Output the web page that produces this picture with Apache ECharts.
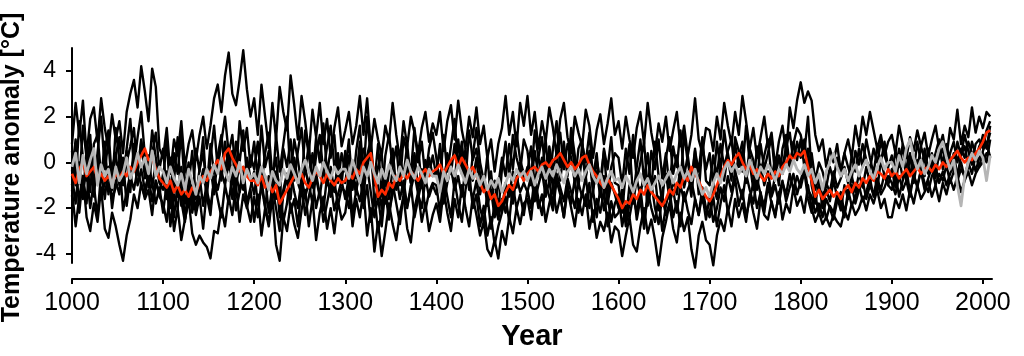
<!DOCTYPE html>
<html>
<head>
<meta charset="utf-8">
<script src="https://cdn.jsdelivr.net/npm/echarts@6/dist/echarts.min.js"></script>
<style>
html,body{margin:0;padding:0;background:#fff;}
#chart{width:1024px;height:356px;}
</style>
</head>
<body>
<div id="chart"></div>
<script>
// x positions: every 4 years from 1000 to 2008
const YEARS = [];
for (let y = 1000; y <= 2008; y += 4) YEARS.push(y);

const X_TICKS = [1000, 1100, 1200, 1300, 1400, 1500, 1600, 1700, 1800, 1900, 2000];
const Y_TICKS = [-4, -2, 0, 2, 4];

// black reconstructions
const black1 = [
  0.8,2.6,1.2,2.7,0.3,1.9,2.4,0.9,2.8,1.5,0.6,2.1,1.0,1.8,0.4,2.2,3.0,3.6,2.4,4.2,3.1,1.8,4.1,3.3,0.6,
  0.2,1.5,-0.5,1.0,0.3,1.8,-0.2,0.8,1.4,0.1,1.2,2.0,0.6,1.6,2.8,3.4,2.2,3.8,4.8,3.0,2.5,3.6,4.9,3.2,2.0,
  2.8,1.2,3.4,2.0,0.6,2.6,1.0,3.3,2.2,1.4,3.8,2.5,1.0,2.9,1.8,0.4,2.3,1.1,2.6,0.8,1.9,0.2,1.5,2.4,0.7,
  1.4,2.2,0.8,1.6,2.9,1.2,2.8,0.6,1.9,1.0,0.3,1.6,0.9,2.6,1.2,0.1,1.8,0.7,2.0,1.3,0.4,1.5,2.2,0.9,1.7,
  1.2,2.2,0.5,1.8,2.5,1.0,2.7,1.4,0.6,2.0,1.1,2.4,0.8,1.6,0.2,1.0,-0.4,0.8,1.5,2.9,1.2,2.2,0.7,2.6,1.6,
  2.9,1.2,2.2,0.6,1.8,0.9,2.4,1.5,0.3,1.9,2.6,1.1,0.4,2.0,1.3,0.7,2.3,1.6,0.2,1.4,2.1,0.8,1.7,2.8,1.2,
  1.8,0.6,2.0,1.0,0.2,1.5,2.2,0.8,2.6,1.3,0.4,1.7,0.9,2.0,0.5,1.4,2.2,0.7,1.6,0.3,1.2,2.8,1.0,0.4,1.5,
  1.4,0.5,2.0,1.0,2.6,1.6,0.8,2.2,1.2,2.9,1.8,0.6,1.5,0.2,1.1,2.0,0.7,1.3,-0.2,0.9,1.6,0.4,2.4,1.5,2.7,
  3.5,2.6,3.1,2.7,1.2,0.5,1.0,-0.2,0.6,0.0,0.8,-0.4,0.4,1.0,0.2,1.6,0.7,2.0,1.2,2.2,1.4,0.6,1.2,0.3,0.9,
  1.2,0.4,1.6,0.8,0.2,1.1,0.5,1.4,0.7,1.3,0.3,1.0,1.6,0.6,1.2,0.2,1.5,1.0,2.3,0.8,1.6,1.1,2.4,1.3,2.0,
  1.5,2.2,2.0
];
const black2 = [
  -1.2,-2.8,-1.5,-0.6,-2.4,-3.0,-1.8,-2.6,-1.1,-2.9,-3.3,-2.2,-2.8,-3.6,-4.3,-3.2,-2.5,-1.4,-2.0,-0.9,-1.6,-1.2,-2.3,-0.8,-1.5,
  -1.8,-2.6,-1.2,-3.0,-2.0,-3.4,-2.5,-1.6,-3.1,-3.6,-3.2,-3.5,-3.7,-4.2,-3.0,-3.1,-2.0,-2.8,-1.5,-2.3,-1.0,-2.6,-1.4,-2.0,-1.2,
  -2.6,-1.4,-3.2,-2.0,-2.8,-1.5,-3.6,-4.3,-2.4,-3.0,-1.8,-2.7,-3.3,-2.1,-1.2,-2.8,-1.6,-3.4,-2.2,-1.5,-2.9,-2.0,-3.1,-1.7,-2.5,
  -2.2,-1.0,-2.8,-1.6,-2.4,-1.2,-3.2,-2.0,-3.9,-2.6,-4.1,-3.0,-1.8,-2.7,-3.4,-2.2,-1.5,-2.9,-3.5,-2.0,-1.3,-2.6,-1.8,-3.0,-2.3,
  -1.8,-2.6,-1.2,-2.2,-3.0,-1.6,-2.4,-1.0,-2.0,-2.8,-1.5,-2.3,-3.2,-2.6,-3.8,-4.1,-3.4,-4.2,-3.0,-3.6,-2.4,-3.1,-2.0,-2.7,-1.8,
  -1.6,-2.5,-1.0,-2.0,-1.4,-2.6,-1.8,-1.1,-2.2,-1.5,-2.4,-1.2,-2.0,-2.8,-1.6,-2.3,-1.4,-2.9,-2.1,-3.3,-2.6,-3.0,-2.2,-3.5,-2.8,
  -3.0,-4.1,-3.2,-2.4,-3.6,-3.9,-2.8,-2.0,-3.1,-2.5,-3.4,-4.5,-3.3,-2.6,-1.8,-2.9,-3.5,-2.2,-3.0,-2.4,-3.8,-4.6,-3.2,-2.6,-3.4,
  -3.6,-4.5,-3.2,-2.5,-3.0,-2.0,-2.8,-1.6,-2.4,-1.8,-2.6,-1.4,-2.2,-2.9,-1.6,-2.3,-2.5,-1.7,-2.4,-1.3,-2.5,-1.8,-2.2,-1.1,-1.9,
  -1.5,-2.2,-1.0,-2.0,-2.6,-2.2,-2.7,-2.4,-2.8,-2.3,-2.6,-2.8,-2.1,-2.5,-1.8,-2.3,-2.0,-1.5,-2.1,-1.4,-1.8,-1.2,-2.0,-1.6,-2.4,
  -2.4,-1.6,-2.0,-1.4,-2.1,-1.2,-1.8,-1.0,-1.6,-1.3,-0.8,-1.5,-1.0,-1.7,-0.9,-1.4,-0.7,-1.2,-0.6,-1.3,-0.8,-0.4,-1.0,-0.5,-0.2,
  0.0,0.4,0.3
];
const black3 = [
  0.5,-1.0,1.8,0.2,-0.8,1.2,-1.5,0.4,2.0,-0.3,0.9,-1.2,1.5,0.1,-0.9,0.6,1.9,-0.2,1.1,2.2,0.3,-0.5,1.4,0.2,-0.7,
  -0.8,1.0,-1.6,0.4,-0.5,1.3,-1.2,0.0,-2.0,0.6,-0.4,1.1,-1.5,0.2,1.6,-0.3,0.9,2.0,0.4,1.2,-0.6,1.8,0.5,1.5,-0.2,
  0.9,-0.7,1.6,-0.2,0.5,-1.3,1.2,-0.4,0.8,2.0,-0.6,1.0,0.1,-1.0,1.4,0.3,-0.8,1.1,0.0,1.7,-0.5,0.6,1.2,-0.9,0.4,
  -0.4,1.0,-1.2,0.5,1.6,-0.6,2.0,0.2,-0.9,0.8,-1.5,0.3,1.2,-0.2,0.7,-1.0,1.1,0.4,-0.5,1.5,0.0,0.9,-0.7,0.6,1.3,
  0.2,-1.0,1.2,-0.4,0.7,1.9,-0.2,0.9,-0.8,1.4,0.1,0.6,-0.5,-1.2,0.3,-1.6,-0.8,-2.2,-0.3,0.9,-0.6,1.2,0.2,-0.4,1.0,
  0.5,-0.8,1.4,0.2,-0.4,1.0,-1.0,0.6,1.8,-0.2,0.9,-0.6,1.5,0.3,-1.1,0.8,0.0,1.3,-0.7,0.4,-1.4,0.6,-0.3,1.1,-0.9,
  -1.0,-2.2,-0.4,0.8,-1.5,-0.2,1.0,-0.8,0.4,-1.2,0.9,-0.6,-1.8,0.2,1.1,-0.5,0.3,-1.0,1.3,0.0,-0.9,0.6,-1.4,0.8,-0.3,
  0.4,-1.0,0.9,-0.3,1.4,0.2,-0.8,1.1,0.5,-0.4,1.6,0.0,-1.2,0.7,-0.5,0.3,1.0,-0.7,0.2,-1.0,0.6,1.2,-0.2,0.8,1.5,
  1.2,0.4,2.0,-0.5,-1.2,-0.6,-1.6,-0.9,-1.3,-0.4,-1.1,-0.7,-0.2,-0.9,0.3,-0.4,0.6,-0.2,1.0,0.2,-0.5,0.7,0.0,0.9,-0.3,
  -0.6,0.5,-0.2,0.8,-0.9,0.3,-0.4,0.9,0.0,-0.6,0.6,-0.2,0.4,1.0,-0.3,0.7,0.1,-0.4,0.9,0.3,1.2,0.5,-0.1,0.8,1.0,
  0.6,1.4,1.8
];
const black4 = [
  -1.5,0.3,-2.2,-0.6,-1.8,0.5,-1.0,-2.4,-0.4,-1.6,-0.2,-2.0,-0.8,-1.4,0.2,-1.9,-0.6,-1.2,-0.3,-1.0,-1.5,-0.4,-0.9,-1.8,-1.1,
  -2.2,-0.9,-2.8,-1.4,-2.0,-0.6,-2.5,-1.7,-1.0,-2.3,-1.5,-2.9,-1.2,-2.0,-0.8,-1.6,-2.4,-1.0,-1.8,-0.5,-2.1,-1.3,-0.7,-1.9,-2.6,
  -1.5,-2.4,-0.8,-1.9,-2.7,-1.1,-2.0,-3.0,-1.4,-0.6,-2.2,-1.6,-2.8,-1.0,-2.3,-1.5,-0.7,-2.0,-1.2,-2.6,-1.8,-0.9,-2.1,-1.4,-0.8,
  -1.6,-0.6,-2.3,-1.2,-0.4,-2.0,-1.0,-2.6,-1.5,-3.0,-2.2,-1.3,-2.5,-0.9,-1.8,-2.7,-1.4,-2.0,-1.0,-2.4,-1.6,-0.8,-2.1,-1.3,-0.9,
  -1.0,-2.2,-0.6,-1.5,-2.4,-0.8,-1.8,-2.6,-1.2,-0.4,-2.0,-1.4,-2.8,-1.9,-3.2,-2.4,-3.6,-2.8,-2.2,-1.5,-2.6,-1.0,-2.0,-1.4,-2.3,
  -1.2,-2.0,-0.6,-1.6,-2.3,-0.9,-1.5,-2.1,-0.8,-1.4,-2.4,-1.0,-1.8,-0.7,-2.2,-1.3,-1.9,-0.9,-2.6,-1.6,-2.2,-1.2,-2.8,-1.7,-2.4,
  -2.2,-1.4,-2.8,-1.8,-1.0,-2.5,-1.6,-2.9,-1.2,-2.0,-2.6,-1.5,-3.0,-1.9,-1.2,-2.4,-1.7,-2.8,-1.3,-2.1,-2.7,-1.6,-2.3,-1.1,-2.0,
  -2.4,-1.5,-2.8,-1.8,-1.0,-2.2,-1.5,-0.7,-1.9,-1.2,-2.4,-1.6,-0.9,-2.0,-1.3,-2.2,-1.0,-1.8,-2.3,-1.4,-0.8,-1.7,-1.1,-0.5,-1.4,
  -0.8,-0.2,-1.2,-1.5,-2.2,-1.8,-2.4,-1.6,-2.0,-2.5,-1.7,-1.3,-2.2,-1.5,-1.0,-1.8,-1.2,-0.8,-1.6,-1.0,-1.4,-0.7,-1.2,-0.5,-1.0,
  -1.2,-0.5,-1.5,-0.8,-0.3,-1.3,-0.6,-1.0,-0.4,-1.2,-0.7,-0.2,-1.0,-0.5,-0.8,-0.1,-0.9,-0.4,-0.6,0.0,-0.7,-0.2,0.3,-0.4,0.2,
  0.4,0.0,1.0
];
const black5 = [
  -0.4,1.0,-0.9,1.6,0.2,-1.3,0.8,1.2,-0.6,0.5,1.4,-0.8,0.3,1.1,-1.0,0.0,0.7,1.5,-0.5,0.9,0.2,-1.1,0.4,1.3,-0.3,
  0.6,-1.4,0.2,-0.8,1.1,-1.9,0.0,-1.0,0.5,-1.6,-0.3,0.4,-1.1,0.8,-0.5,0.3,1.2,-0.4,0.6,-0.9,0.9,0.0,1.4,-0.6,0.3,
  -0.3,0.9,-1.0,0.4,1.3,-0.6,0.2,-1.5,0.6,-0.2,1.0,-0.8,0.5,1.5,-0.4,0.8,-1.1,0.3,1.2,-0.5,0.7,1.6,-0.2,0.4,-0.9,
  0.5,-1.2,0.0,-0.7,0.9,-1.6,0.3,1.0,-1.0,-0.2,0.4,-1.8,-0.4,0.6,-1.2,0.2,-0.6,0.8,-0.9,-0.3,0.7,-1.1,0.1,-0.5,0.3,
  -0.6,0.8,-1.4,0.4,-0.2,-1.0,1.0,-0.5,0.6,-1.2,0.3,1.5,0.0,-0.8,-1.5,-0.4,-2.0,-1.0,0.2,-0.6,0.8,-0.3,1.3,0.1,-0.5,
  -0.4,0.7,-1.0,0.2,1.1,-0.5,0.4,-1.2,0.0,1.3,-0.3,0.8,0.2,-0.9,0.6,1.0,-0.6,0.3,-1.3,0.1,-0.8,0.5,-1.5,-0.2,0.4,
  0.2,-1.0,0.6,-0.5,1.2,-0.8,0.0,0.9,-1.2,0.5,-0.3,1.0,-0.7,0.4,-1.1,0.7,-0.2,1.4,-0.6,0.3,-0.9,0.5,-0.4,1.1,-0.8,
  -1.0,0.3,-0.6,0.8,-0.2,0.5,1.0,-0.5,0.2,0.9,-0.7,0.6,0.1,-0.9,0.8,-0.3,0.4,1.1,-0.6,0.3,-0.2,0.7,1.3,0.0,0.9,
  0.2,1.0,-0.3,0.4,-0.8,0.0,-0.4,-1.1,-0.2,-0.8,0.2,-0.5,0.4,-0.2,-0.7,0.5,-0.1,0.8,0.1,-0.3,0.6,0.0,0.9,0.3,-0.2,
  0.3,-0.4,0.6,-0.1,0.5,-0.6,0.2,-0.3,0.7,0.1,-0.5,0.4,-0.2,0.2,0.6,-0.3,0.4,0.9,0.0,0.6,0.2,0.9,0.4,0.1,0.7,
  1.0,0.6,1.6
];
const black6 = [
  -1.0,0.2,-0.5,-1.6,0.6,-0.3,-1.2,0.1,-0.8,0.9,-1.4,-0.2,0.4,-1.0,-0.6,0.5,-1.3,0.8,-0.4,1.0,-0.7,0.3,-1.1,0.0,-0.9,
  -1.2,-0.4,-2.0,-0.8,-1.5,-0.2,-1.8,-1.0,-2.2,-1.3,-0.6,-1.9,-0.9,-0.2,-1.4,0.3,-0.8,0.9,-0.3,0.5,-1.0,-0.1,-1.2,0.2,-0.7,
  -1.4,-0.3,-1.0,-2.0,-0.6,-1.5,-0.4,-2.4,-1.2,-0.5,-1.6,0.2,-0.9,-1.4,-0.2,-1.1,0.4,-0.7,-1.5,-0.3,-1.0,-0.2,-1.3,0.1,-0.8,
  -0.9,0.3,-0.6,-1.4,0.2,0.6,-0.4,0.9,-1.8,-1.0,-2.0,-0.7,-1.6,-0.3,-1.1,-0.5,-1.4,-0.1,-0.9,0.4,-1.2,-0.3,-1.0,0.2,-0.6,
  -0.4,0.6,-0.9,0.2,-0.5,0.8,-0.2,0.4,-1.0,-0.3,-0.8,0.2,-1.4,-0.6,-1.9,-1.2,-2.4,-1.6,-2.1,-0.9,-1.5,-0.4,-1.1,0.0,-0.8,
  -0.2,-1.0,0.5,-0.6,0.2,-0.9,0.7,-0.3,0.4,-0.8,0.6,-0.5,0.9,-0.2,-1.0,0.3,-0.7,0.5,-1.2,-0.4,-1.5,-0.6,-1.8,-0.9,-1.4,
  -2.0,-1.2,-2.6,-1.0,-1.8,-0.7,-1.5,-0.4,-1.9,-1.1,-0.6,-2.1,-1.3,-0.5,-1.6,-0.8,-1.4,-0.2,-1.1,-0.4,-1.5,0.2,-0.9,-1.7,-2.0,
  -2.3,-1.0,-1.6,-0.2,-0.8,0.4,-0.5,0.8,-0.2,0.5,-0.9,0.3,-0.6,-1.2,-0.1,-1.0,-0.4,-1.4,-0.6,0.2,-0.5,0.6,-0.3,0.9,0.1,
  1.0,-0.2,0.6,-1.0,-1.8,-0.9,-2.0,-1.2,-1.7,-0.8,-1.5,-2.1,-1.0,-1.6,-0.6,-1.3,-0.5,-1.1,-0.2,-0.9,-0.4,-1.2,0.1,-0.6,-1.0,
  -0.3,-1.1,0.2,-0.7,-0.2,0.4,-0.9,0.1,-0.5,0.6,-0.4,0.3,-0.7,0.5,0.0,0.8,-0.2,0.4,-0.6,0.3,0.7,-0.1,0.9,0.3,0.5,
  1.2,0.7,1.3
];
const black7 = [
  -0.6,-1.8,0.0,-1.2,-0.4,-2.0,-0.8,0.3,-1.5,-0.9,-0.2,-1.6,-1.1,0.1,-2.1,-1.3,-0.5,0.2,-1.0,-0.3,-1.2,-0.6,-1.7,-0.8,-1.4,
  -0.5,-1.6,-1.0,-2.4,-0.9,-1.7,-2.6,-0.8,-1.4,-2.0,-1.1,-0.3,-1.5,-2.3,-0.6,-1.2,-0.4,-1.0,0.2,-1.6,-0.5,-1.3,-0.2,-1.8,-1.1,
  -0.4,-1.8,-1.2,-0.6,-2.2,-1.0,-1.6,-0.8,-2.6,-1.8,-0.4,-1.3,-2.0,-0.7,-1.5,-0.9,-1.8,-0.5,-1.4,-2.1,-0.6,-1.5,-0.8,-1.9,-1.1,
  -1.3,-2.0,-0.5,-1.1,-1.7,-0.8,-0.2,-1.3,-2.4,-1.5,-2.8,-1.2,-2.2,-1.4,-0.6,-1.6,-0.8,-1.9,-1.2,-0.5,-1.4,-2.0,-0.7,-1.5,-1.0,
  -1.4,-0.5,-1.8,-0.9,-0.2,-1.2,-0.6,-1.5,-0.3,-1.0,-1.6,-0.8,-2.0,-2.6,-1.4,-2.9,-1.8,-2.5,-1.6,-2.2,-1.0,-1.8,-0.6,-1.3,-0.9,
  -1.3,-0.6,-1.7,-1.0,-0.4,-1.5,-0.8,-1.9,-0.5,-1.1,-1.7,-0.7,-1.3,-2.0,-0.9,-1.5,-0.6,-2.0,-1.2,-2.4,-1.1,-2.1,-1.5,-2.6,-1.8,
  -1.4,-2.8,-1.9,-2.4,-1.5,-2.2,-1.1,-2.6,-1.6,-0.9,-2.0,-2.7,-1.5,-2.3,-1.8,-1.2,-2.2,-1.0,-1.7,-1.2,-0.8,-1.6,-2.3,-1.4,-2.5,
  -1.5,-2.6,-2.0,-1.1,-1.7,-0.6,-1.3,-0.4,-1.0,-1.6,-0.5,-1.2,-1.8,-0.7,-1.4,-1.9,-0.9,-1.5,-1.0,-1.8,-0.9,-1.4,-0.5,-1.2,-0.6,
  -1.1,-0.4,-1.6,-2.2,-1.4,-2.3,-1.6,-2.5,-1.9,-2.2,-1.4,-1.8,-2.4,-1.2,-1.9,-1.5,-1.0,-1.7,-1.3,-0.7,-1.5,-0.9,-1.4,-1.1,-0.6,
  -0.9,-1.4,-0.6,-1.2,-0.8,-1.5,-0.5,-1.1,-0.3,-0.9,-1.3,-0.6,-0.2,-0.9,-0.4,-1.0,-0.5,-0.1,-0.8,-0.3,-0.6,0.0,-0.5,0.3,-0.2,
  0.5,0.9,0.2
];
// red series
const redSeries = [
  -0.5,-0.9,-0.3,0.0,-0.6,-0.4,-0.2,-0.7,-0.5,-0.8,-0.6,-0.9,-0.5,-0.7,-0.4,-0.6,-0.2,-0.4,0.0,0.3,0.6,0.1,0.2,-0.3,-0.7,
  -0.9,-1.1,-0.8,-1.3,-1.0,-1.4,-1.2,-1.5,-1.1,-1.3,-0.9,-0.6,-0.8,-0.4,-0.2,0.1,-0.3,0.4,0.6,0.2,-0.1,-0.4,-0.2,-0.6,-0.8,
  -0.8,-1.0,-0.6,-1.1,-0.9,-1.3,-1.0,-1.8,-1.5,-1.2,-0.9,-0.6,-0.8,-0.5,-0.9,-1.1,-0.7,-0.4,-0.6,-0.9,-0.5,-0.8,-1.0,-0.7,-0.9,
  -0.8,-0.5,-0.7,-0.3,-0.5,0.0,0.2,0.4,-0.6,-1.5,-1.2,-1.4,-0.9,-1.1,-0.6,-0.8,-0.5,-0.7,-0.4,-0.6,-0.8,-0.5,-0.3,-0.6,-0.4,
  -0.3,-0.1,-0.5,-0.2,0.1,0.3,-0.2,0.2,-0.1,-0.4,-0.2,-0.6,-0.9,-1.3,-1.1,-1.6,-1.4,-1.9,-1.7,-1.3,-1.0,-1.2,-0.7,-0.5,-0.8,
  -0.5,-0.3,-0.2,-0.4,-0.1,0.0,-0.2,0.1,0.2,0.4,0.1,-0.2,0.0,-0.3,-0.1,0.2,0.3,-0.1,-0.4,-0.6,-0.9,-1.1,-0.7,-1.0,-1.3,
  -1.6,-2.0,-1.7,-1.8,-1.4,-1.6,-1.2,-1.4,-1.0,-1.3,-1.5,-1.7,-1.9,-1.6,-1.2,-1.4,-0.9,-1.1,-0.6,-0.8,-0.2,-0.5,-0.8,-1.2,-1.5,
  -1.7,-1.4,-1.0,-0.6,-0.2,0.1,-0.1,0.2,0.4,0.0,-0.3,-0.1,-0.5,-0.3,-0.6,-0.8,-0.5,-0.7,-0.4,-0.6,-0.2,0.0,0.3,0.1,0.4,
  0.3,0.5,-0.2,-0.8,-1.5,-1.2,-1.6,-1.4,-1.2,-1.5,-1.3,-1.6,-1.2,-1.0,-1.3,-0.9,-1.1,-0.7,-0.9,-0.6,-0.8,-0.4,-0.5,-0.7,-0.3,
  -0.6,-0.4,-0.7,-0.5,-0.3,-0.6,-0.4,-0.2,-0.5,-0.3,-0.2,-0.4,-0.1,-0.3,0.0,-0.2,0.1,0.3,0.5,0.2,0.0,0.2,0.1,0.4,0.6,
  0.9,1.3,1.4
];
// grey series
const greySeries = [
  -0.2,0.4,-0.9,0.3,-0.5,0.1,0.6,-1.0,-0.1,-0.6,-0.3,-1.1,-0.2,-0.8,-0.5,0.2,-0.7,-0.3,0.4,-0.2,0.2,-0.5,0.5,-0.6,-0.2,
  -0.4,-0.9,-0.2,-0.7,-1.0,-0.5,-1.2,-0.3,-0.8,-1.4,-0.6,-0.9,-0.3,-0.7,-0.1,-0.5,0.2,-0.4,-0.8,-0.2,-0.6,0.0,-0.9,-0.3,-0.7,
  -0.5,-0.9,-0.2,-0.6,-1.2,-0.4,-0.8,-1.0,-0.3,-0.7,-0.1,-0.5,-0.9,-0.3,0.1,-0.4,-0.8,-0.2,-0.6,0.0,-0.4,-0.7,-0.2,-0.5,-0.3,
  -0.3,-0.7,0.1,-0.4,-0.9,-0.2,-0.6,0.0,-0.5,-0.9,-0.3,-0.7,-0.1,-0.5,-0.8,-0.2,-0.6,0.1,-0.4,-0.7,-0.2,-0.5,-0.9,-0.3,-0.6,
  -0.6,-1.3,-0.4,-0.8,-0.2,-0.6,-0.1,-0.5,-0.9,-0.3,-0.7,-0.5,-1.0,-0.6,-1.2,-0.8,-1.1,-0.7,-1.3,-0.9,-0.5,-0.8,-0.3,-0.6,-0.4,
  -0.8,-0.4,-1.0,-0.5,-0.2,-0.7,-0.3,-0.6,-0.1,-0.5,-0.9,-0.4,-0.2,-0.6,-0.3,-0.8,-0.4,-0.1,-0.6,-0.9,-0.5,-1.1,-0.7,-0.4,-0.8,
  -0.7,-1.1,-0.6,-0.9,-1.3,-0.8,-0.5,-1.0,-0.7,-1.2,-0.9,-0.6,-1.0,-0.7,-0.4,-0.9,-0.5,-0.2,-0.7,-0.4,-0.8,-0.3,-0.9,-1.4,-1.1,
  -1.5,-0.9,-0.5,-0.9,-0.3,0.0,-0.4,-0.1,-0.5,-0.2,-0.6,0.1,-0.3,-0.7,-0.2,-0.5,-0.1,-0.4,-0.8,-0.3,-0.5,-0.1,-0.4,0.1,-0.3,
  -0.5,-0.1,-0.6,-0.3,-0.9,-0.5,-1.2,-0.4,0.0,0.4,-0.2,-0.6,-0.3,-0.8,-0.4,-0.1,-0.6,-0.2,0.1,-0.4,-0.7,-0.2,0.2,-0.3,0.0,
  0.0,-0.4,0.3,-0.2,0.6,1.0,0.2,-0.3,0.1,-0.5,-0.2,0.3,0.0,0.6,0.9,0.2,-0.3,0.1,-1.0,-1.9,-0.6,0.0,0.4,0.1,0.5,
  0.2,-0.8,0.3
];

const pairs = arr => YEARS.map((y, i) => [y, arr[i]]);
const FONT = 'Liberation Sans, Arial, Helvetica, sans-serif';

function lineSeries(arr, color, width, z) {
  return {
    type: 'line', data: pairs(arr), showSymbol: false, symbol: 'none',
    clip: false, z: z, animation: false, silent: true,
    lineStyle: { color: color, width: width, join: 'round' }
  };
}

const chart = echarts.init(document.getElementById('chart'), null, { renderer: 'canvas' });
chart.setOption({
  animation: false,
  backgroundColor: '#ffffff',
  grid: { left: 72, right: 32, top: 48, bottom: 93, containLabel: false, outerBoundsMode: 'none' },
  xAxis: {
    type: 'value', min: 1000, max: 2010, offset: 16,
    axisLine: { show: true, onZero: false, lineStyle: { color: '#000', width: 2 } },
    axisTick: { show: true, length: 5, lineStyle: { color: '#000', width: 2 }, customValues: X_TICKS },
    axisLabel: { color: '#000', fontSize: 25, fontFamily: FONT, margin: 12, customValues: X_TICKS,
                 formatter: v => String(v) },
    splitLine: { show: false },
    name: 'Year', nameLocation: 'middle', nameGap: 43,
    nameTextStyle: { color: '#000', fontSize: 29, fontWeight: 'bold', fontFamily: FONT }
  },
  yAxis: {
    type: 'value', min: -4.4, max: 5,
    axisLine: { show: true, onZero: false, lineStyle: { color: '#000', width: 2 } },
    axisTick: { show: true, length: 6, lineStyle: { color: '#000', width: 2 }, customValues: Y_TICKS },
    axisLabel: { color: '#000', fontSize: 23, fontFamily: FONT, margin: 16, customValues: Y_TICKS },
    splitLine: { show: false },
    name: 'Temperature anomaly [°C]', nameLocation: 'middle', nameGap: 47,
    nameTextStyle: { color: '#000', fontSize: 25, fontWeight: 'bold', fontFamily: FONT, padding: [0, 24, 0, 0] }
  },
  series: [
    lineSeries(black1, '#000000', 2.4, 1),
    lineSeries(black2, '#000000', 2.4, 1),
    lineSeries(black3, '#000000', 2.4, 1),
    lineSeries(black4, '#000000', 2.4, 1),
    lineSeries(black5, '#000000', 2.4, 1),
    lineSeries(black6, '#000000', 2.4, 1),
    lineSeries(black7, '#000000', 2.4, 1),
    lineSeries(redSeries, '#ff2a00', 2.6, 2),
    lineSeries(greySeries, '#b5b5b5', 2.8, 3)
  ]
});
</script>
</body>
</html>
